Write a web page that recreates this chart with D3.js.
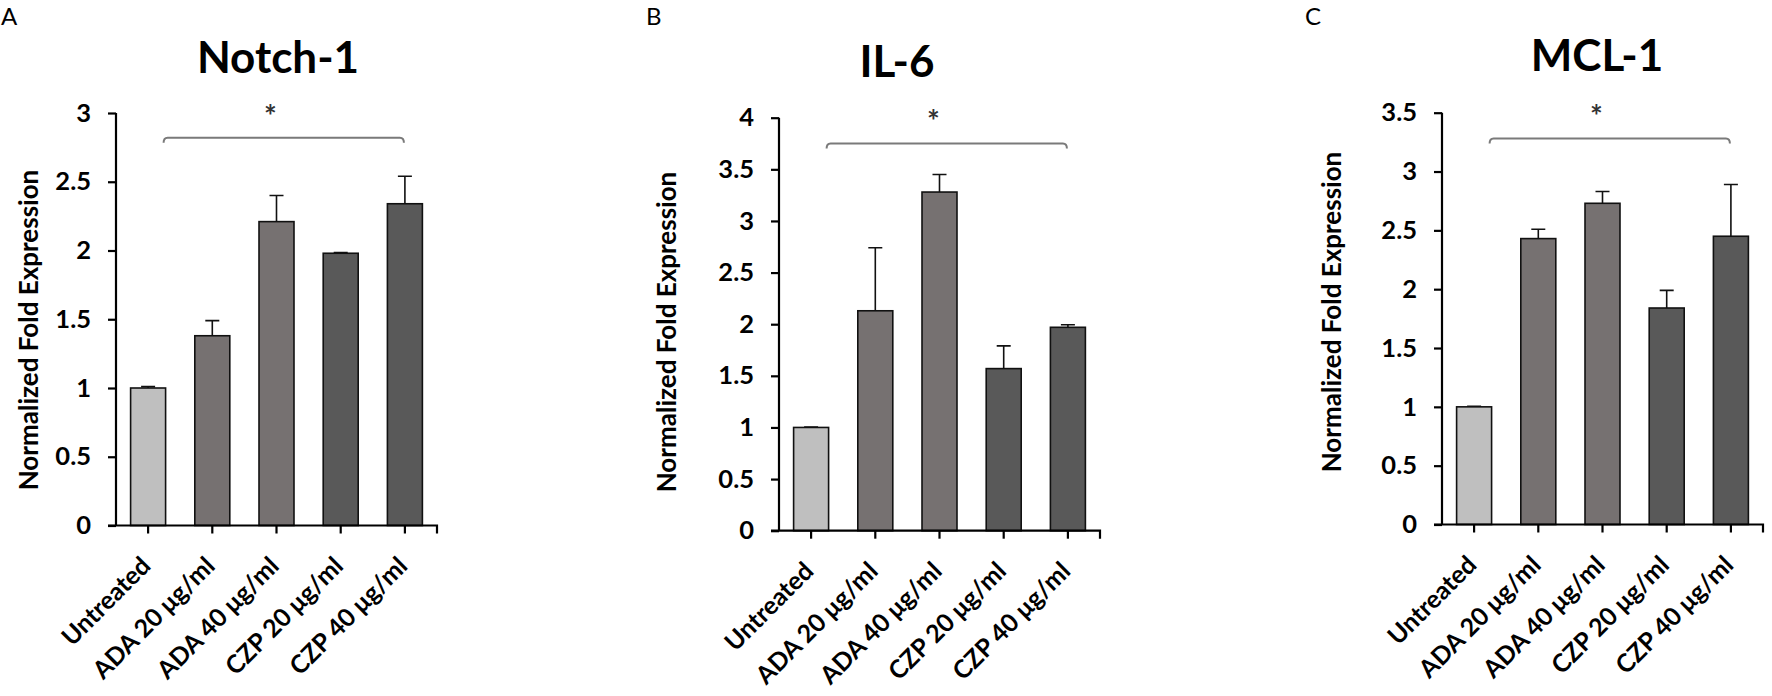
<!DOCTYPE html>
<html>
<head>
<meta charset="utf-8">
<script src="https://cdn.jsdelivr.net/npm/d3@7/dist/d3.min.js"></script>
<style>
  html, body { margin: 0; padding: 0; background: #fff; }
  svg { display: block; }
  text { font-family: Lato, "Open Sans", "DejaVu Sans", sans-serif; }
</style>
</head>
<body>
<svg id="chart" width="1772" height="696"></svg>
<script>
// ---------- data ----------
const categories = ["Untreated", "ADA 20 μg/ml", "ADA 40 μg/ml", "CZP 20 μg/ml", "CZP 40 μg/ml"];
const barColors = ["#bfbfbf", "#767171", "#767171", "#595959", "#595959"];

const notchValues = [1.00, 1.38, 2.21, 1.98, 2.34];
const notchErrors = [0.01, 0.11, 0.19, 0.005, 0.20];
const notchTicks  = [0, 0.5, 1, 1.5, 2, 2.5, 3];
const notchSig    = 2.82;

const il6Values = [1.00, 2.13, 3.28, 1.57, 1.97];
const il6Errors = [0.005, 0.61, 0.17, 0.22, 0.025];
const il6Ticks  = [0, 0.5, 1, 1.5, 2, 2.5, 3, 3.5, 4];
const il6Sig    = 3.75;

const mclValues = [1.00, 2.43, 2.73, 1.84, 2.45];
const mclErrors = [0.005, 0.08, 0.10, 0.15, 0.44];
const mclTicks  = [0, 0.5, 1, 1.5, 2, 2.5, 3, 3.5];
const mclSig    = 3.28;

const panelLetters = ["A", "B", "C"];
const panelTitles  = ["Notch-1", "IL-6", "MCL-1"];
const yAxisTitle   = "Normalized Fold Expression";
const sigLabel     = "*";

// ---------- layout ----------
const layouts = [
  { x0: 116,  x1: 437,  y0: 525.5, yTop: 113,   titleX: 278,  titleY: 73, letterX: 1,    yTitleX: 38,   yTitleY: 330 },
  { x0: 779,  x1: 1100, y0: 530.7, yTop: 117.7, titleX: 897,  titleY: 77, letterX: 646,  yTitleX: 676,  yTitleY: 332 },
  { x0: 1442, x1: 1763, y0: 524.5, yTop: 112.7, titleX: 1597, titleY: 71, letterX: 1305, yTitleX: 1341, yTitleY: 312 }
];

const panelData = [
  { values: notchValues, errors: notchErrors, ticks: notchTicks, sig: notchSig },
  { values: il6Values,   errors: il6Errors,   ticks: il6Ticks,   sig: il6Sig },
  { values: mclValues,   errors: mclErrors,   ticks: mclTicks,   sig: mclSig }
];

const svg = d3.select("#chart");
svg.append("rect").attr("width", 1772).attr("height", 696).attr("fill", "#fff");

panelData.forEach((pd, i) => {
  const L = layouts[i];
  const g = svg.append("g");
  const yMax = pd.ticks[pd.ticks.length - 1];

  const x = d3.scaleBand().domain(categories).range([L.x0, L.x1])
    .paddingInner(0.455).paddingOuter(0.2275);
  const y = d3.scaleLinear().domain([0, yMax]).range([L.y0, L.yTop]);

  // panel letter
  g.append("text").attr("x", L.letterX).attr("y", 25)
    .attr("font-size", 24).attr("font-weight", 400).attr("fill", "#000")
    .text(panelLetters[i]);

  // title
  g.append("text").attr("x", L.titleX).attr("y", L.titleY)
    .attr("text-anchor", "middle").attr("font-size", 44).attr("font-weight", 700)
    .attr("fill", "#000").text(panelTitles[i]);

  // y-axis title
  g.append("text")
    .attr("transform", `translate(${L.yTitleX},${L.yTitleY}) rotate(-90)`)
    .attr("text-anchor", "middle").attr("font-size", 26).attr("font-weight", 700)
    .attr("fill", "#000").text(yAxisTitle);

  // bars
  const rows = categories.map((c, k) => ({ c, v: pd.values[k], e: pd.errors[k], color: barColors[k] }));

  g.selectAll("rect.bar").data(rows).join("rect").attr("class", "bar")
    .attr("x", d => x(d.c)).attr("width", x.bandwidth())
    .attr("y", d => y(d.v)).attr("height", d => y(0) - y(d.v))
    .attr("fill", d => d.color).attr("stroke", "#111").attr("stroke-width", 1.6);

  // error bars (upper only)
  const capW = 14;
  g.selectAll("path.err").data(rows).join("path").attr("class", "err")
    .attr("d", d => {
      const cx = x(d.c) + x.bandwidth() / 2;
      return `M${cx},${y(d.v)}V${y(d.v + d.e)}M${cx - capW / 2},${y(d.v + d.e)}H${cx + capW / 2}`;
    })
    .attr("stroke", "#111").attr("stroke-width", 1.6).attr("fill", "none");

  // y axis
  const yAxis = d3.axisLeft(y).tickValues(pd.ticks).tickSize(8).tickPadding(17)
    .tickFormat(d3.format("~g"));
  const yg = g.append("g").attr("transform", `translate(${L.x0},0)`).call(yAxis);
  yg.select(".domain").attr("d", `M0,${L.yTop}V${L.y0}`).attr("stroke", "#000").attr("stroke-width", 2.2);
  yg.selectAll(".tick line").attr("stroke", "#000").attr("stroke-width", 2.2);
  yg.selectAll(".tick text").attr("font-size", 25.5).attr("font-weight", 700).attr("fill", "#000")
    .attr("font-family", "Lato, 'Open Sans', sans-serif");

  // x axis
  const xAxis = d3.axisBottom(x).tickSize(8).tickSizeOuter(0).tickFormat("");
  const xg = g.append("g").attr("transform", `translate(0,${L.y0})`).call(xAxis);
  xg.select(".domain").attr("d", `M${L.x0 - 8},0H${L.x1}V8`).attr("stroke", "#000")
    .attr("stroke-width", 2.2).attr("fill", "none");
  xg.selectAll(".tick line").attr("stroke", "#000").attr("stroke-width", 2.2);

  // rotated category labels
  g.selectAll("text.xlab").data(categories).join("text").attr("class", "xlab")
    .attr("transform", d => `translate(${x(d) + x.bandwidth() / 2 + 4},${L.y0 + 42}) rotate(-45)`)
    .attr("text-anchor", "end").attr("font-size", 25).attr("font-weight", 700).attr("fill", "#000")
    .text(d => d);

  // significance bracket
  const bx1 = x(categories[0]) + x.bandwidth() - 2;
  const bx2 = x(categories[4]) + x.bandwidth() / 2 - 1;
  const by = y(pd.sig);
  g.append("path")
    .attr("d", `M${bx1},${by + 5}Q${bx1},${by} ${bx1 + 4},${by}H${bx2 - 4}Q${bx2},${by} ${bx2},${by + 5}`)
    .attr("stroke", "#7a7a7a").attr("stroke-width", 2).attr("fill", "none");

  g.append("text")
    .attr("x", x(categories[2]) + x.bandwidth() / 2 - 6)
    .attr("y", y(yMax) + 14)
    .attr("text-anchor", "middle").attr("font-size", 30).attr("font-weight", 700)
    .attr("fill", "#333").text(sigLabel);
});
</script>
</body>
</html>
